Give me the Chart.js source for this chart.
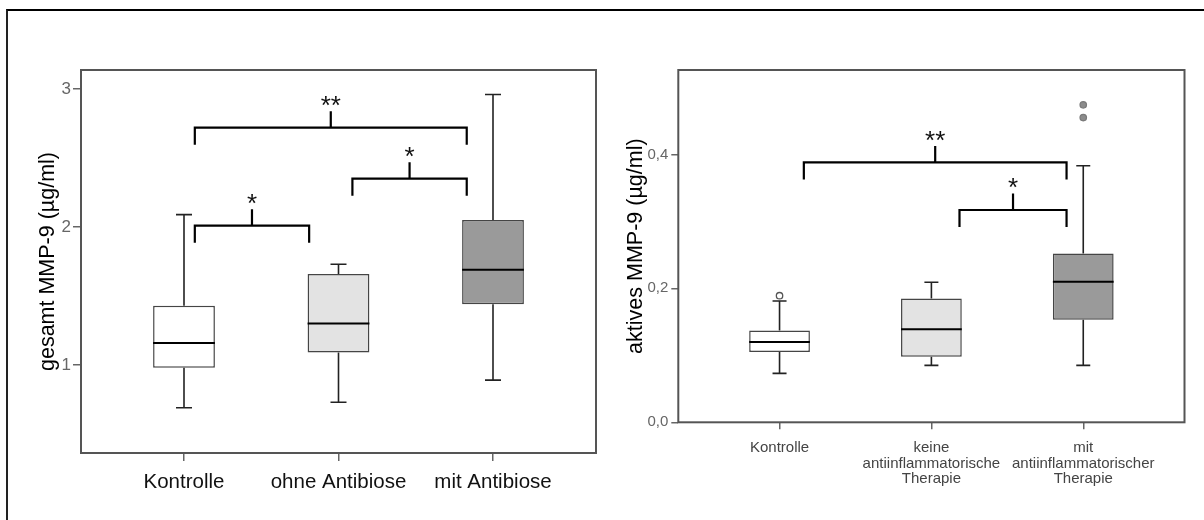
<!DOCTYPE html>
<html>
<head>
<meta charset="utf-8">
<title>MMP-9</title>
<script src="https://cdn.jsdelivr.net/npm/chart.js@4.4.1/dist/chart.umd.min.js"></script>
<style>
  body { margin: 0; background: #fff; }
  #page { position: relative; width: 1204px; height: 520px; overflow: hidden; }
  #frame { position: absolute; left: 6px; top: 9px; right: -4px; bottom: -4px;
           border-top: 2px solid #000; border-left: 2px solid #222; }
  canvas { position: absolute; top: 0; }
  #gesamt { left: 0; }
  #aktiv { left: 600px; }
</style>
</head>
<body>
<div id="page">
  <div id="frame"></div>
  <canvas id="gesamt" width="604" height="520"></canvas>
  <canvas id="aktiv" width="604" height="520"></canvas>
</div>
<script>
const FONT = '"Liberation Sans", Arial, sans-serif';

// gesamt MMP-9 (µg/ml)
const gesamtGroups = ['Kontrolle', 'ohne Antibiose', 'mit Antibiose'];
const gesamtMin = [0.69, 0.73, 0.89];
const gesamtQ1 = [0.98, 1.09, 1.44];
const gesamtMedian = [1.16, 1.30, 1.69];
const gesamtQ3 = [1.43, 1.66, 2.05];
const gesamtMax = [2.09, 1.73, 2.96];
const gesamtOutliers = [];
const gesamtTicks = [1, 2, 3];
const gesamtTickLabels = ['1', '2', '3'];
const gesamtSig = [
    { from: 1.07, to: 1.81, level: 2.01, stars: '*' },
    { from: 2.09, to: 2.83, level: 2.35, stars: '*' },
    { from: 1.07, to: 2.83, level: 2.72, stars: '**' }
];

// aktives MMP-9 (µg/ml)
const aktivGroups = [
    ['Kontrolle'],
    ['keine', 'antiinflammatorische', 'Therapie'],
    ['mit', 'antiinflammatorischer', 'Therapie']
];
const aktivMin = [0.073, 0.085, 0.085];
const aktivQ1 = [0.105, 0.098, 0.153];
const aktivMedian = [0.120, 0.139, 0.210];
const aktivQ3 = [0.137, 0.185, 0.252];
const aktivMax = [0.181, 0.209, 0.383];
const aktivOutliers = [{ x: 1, y: 0.189 }, { x: 3, y: 0.455 }, { x: 3, y: 0.474 }];
const aktivTicks = [0, 0.2, 0.4];
const aktivTickLabels = ['0,0', '0,2', '0,4'];
const aktivSig = [
    { from: 1.16, to: 2.89, level: 0.388, stars: '**' },
    { from: 2.185, to: 2.89, level: 0.317, stars: '*' }
];

const boxFills = ['#ffffff', '#e3e3e3', '#9a9a9a'];

// whiskers, medians, significance brackets and the plot frame
function boxExtras(d) {
    return {
        id: 'boxExtras',
        beforeDatasetsDraw(chart) {
            const { ctx, scales: { x, y } } = chart;
            ctx.save();
            ctx.strokeStyle = '#222';
            ctx.lineWidth = 1.6;
            d.min.forEach((lo, i) => {
                const px = x.getPixelForValue(i + 1);
                [[d.q1[i], lo], [d.q3[i], d.max[i]]].forEach(([from, to]) => {
                    const y0 = y.getPixelForValue(from);
                    const y1 = y.getPixelForValue(to);
                    ctx.beginPath();
                    ctx.moveTo(px, y0);
                    ctx.lineTo(px, y1);
                    ctx.moveTo(px - d.cap, y1);
                    ctx.lineTo(px + d.cap, y1);
                    ctx.stroke();
                });
            });
            ctx.restore();
        },
        afterDatasetsDraw(chart) {
            const { ctx, chartArea, scales: { x, y } } = chart;
            const bars = chart.getDatasetMeta(0).data;
            ctx.save();
            // medians
            ctx.strokeStyle = '#000';
            ctx.lineWidth = 2;
            bars.forEach((bar, i) => {
                const py = y.getPixelForValue(d.median[i]);
                ctx.beginPath();
                ctx.moveTo(bar.x - bar.width / 2, py);
                ctx.lineTo(bar.x + bar.width / 2, py);
                ctx.stroke();
            });
            // brackets
            ctx.lineWidth = 2.2;
            ctx.fillStyle = '#111';
            ctx.font = '26px ' + FONT;
            ctx.textAlign = 'center';
            ctx.textBaseline = 'alphabetic';
            d.sig.forEach(s => {
                const x0 = x.getPixelForValue(s.from);
                const x1 = x.getPixelForValue(s.to);
                const py = y.getPixelForValue(s.level);
                const mid = (x0 + x1) / 2;
                ctx.beginPath();
                ctx.moveTo(x0, py + 17);
                ctx.lineTo(x0, py);
                ctx.lineTo(x1, py);
                ctx.lineTo(x1, py + 17);
                ctx.moveTo(mid, py);
                ctx.lineTo(mid, py - 16.5);
                ctx.stroke();
                ctx.fillText(s.stars, mid, py - 13.5);
            });
            // frame
            ctx.strokeStyle = '#555';
            ctx.lineWidth = 2;
            ctx.strokeRect(chartArea.left, chartArea.top,
                chartArea.right - chartArea.left, chartArea.bottom - chartArea.top);
            ctx.restore();
        }
    };
}

function makeBoxChart(id, d) {
    const positions = d.groups.map((g, i) => i + 1);
    new Chart(document.getElementById(id), {
        type: 'bar',
        data: {
            datasets: [{
                data: positions.map((p, i) => ({ x: p, y: [d.q1[i], d.q3[i]] })),
                backgroundColor: boxFills,
                borderColor: '#454545',
                borderWidth: 1.5,
                borderSkipped: false,
                categoryPercentage: 1,
                barPercentage: 0.4
            }, {
                type: 'scatter',
                data: d.outliers,
                pointRadius: 3.2,
                pointBackgroundColor: d.outliers.map(o => o.x === 1 ? '#ffffff' : '#8c8c8c'),
                pointBorderColor: d.outliers.map(o => o.x === 1 ? '#555' : '#7a7a7a'),
                pointBorderWidth: 1.3
            }]
        },
        options: {
            responsive: false,
            animation: false,
            layout: { padding: d.padding },
            plugins: { legend: { display: false }, tooltip: { enabled: false } },
            scales: {
                x: {
                    type: 'linear',
                    min: 1 / 3,
                    max: 11 / 3,
                    offset: false,
                    bounds: 'data',
                    afterBuildTicks: s => { s.ticks = positions.map(v => ({ value: v })); },
                    afterFit: s => { s.height = d.xHeight; },
                    ticks: {
                        color: d.xColor,
                        font: { family: FONT, size: d.xSize, lineHeight: d.xLine },
                        padding: d.xPad,
                        maxRotation: 0,
                        autoSkip: false,
                        callback: (v, i) => d.groups[i]
                    },
                    grid: { drawOnChartArea: false, tickLength: d.tickLen, color: '#666', lineWidth: 1.5, offset: false },
                    border: { display: false }
                },
                y: {
                    min: d.yMin,
                    max: d.yMax,
                    bounds: 'data',
                    afterBuildTicks: s => { s.ticks = d.ticks.map(v => ({ value: v })); },
                    afterFit: s => { s.width = d.yWidth; },
                    ticks: {
                        color: '#666',
                        font: { family: FONT, size: d.ySize },
                        padding: d.yPad,
                        callback: (v, i) => d.tickLabels[i]
                    },
                    grid: { drawOnChartArea: false, tickLength: d.tickLen, color: '#666', lineWidth: 1.5 },
                    border: { display: false },
                    title: {
                        display: true,
                        text: d.title,
                        color: '#000',
                        font: { family: FONT, size: 21.5 },
                        padding: { top: d.titlePad, bottom: 0 }
                    }
                }
            }
        },
        plugins: [boxExtras(d)]
    });
}

makeBoxChart('gesamt', {
    groups: gesamtGroups, min: gesamtMin, q1: gesamtQ1, median: gesamtMedian, q3: gesamtQ3, max: gesamtMax,
    outliers: gesamtOutliers, ticks: gesamtTicks, tickLabels: gesamtTickLabels, sig: gesamtSig,
    title: 'gesamt MMP-9 (µg/ml)',
    yMin: 0.362, yMax: 3.138,
    padding: { left: 21, right: 8, top: 70, bottom: 7 },
    xHeight: 60, yWidth: 60, titlePad: 14,
    xColor: '#111', xSize: 20.5, xLine: 1.2, xPad: 9.5,
    ySize: 17, yPad: 2, tickLen: 8, cap: 8
});

makeBoxChart('aktiv', {
    groups: aktivGroups, min: aktivMin, q1: aktivQ1, median: aktivMedian, q3: aktivQ3, max: aktivMax,
    outliers: aktivOutliers, ticks: aktivTicks, tickLabels: aktivTickLabels, sig: aktivSig,
    title: 'aktives MMP-9 (µg/ml)',
    yMin: 0, yMax: 0.526,
    padding: { left: 20, right: 19.5, top: 70, bottom: 7.7 },
    xHeight: 90, yWidth: 58.3, titlePad: 3,
    xColor: '#444', xSize: 15, xLine: 1.05, xPad: 10.5,
    ySize: 15, yPad: 3, tickLen: 7, cap: 7
});
</script>
</body>
</html>
